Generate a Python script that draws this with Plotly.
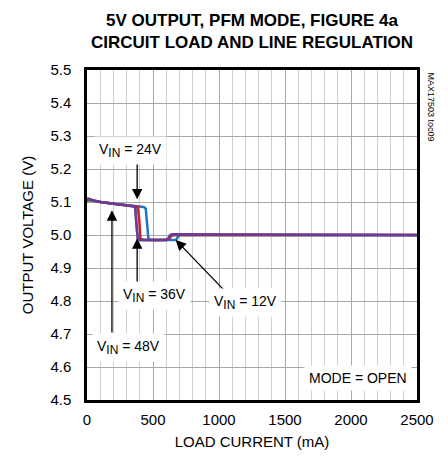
import plotly.graph_objects as go

# ---- data ----
x_12v = [0, 10, 50, 100, 200, 300, 400, 430, 445, 455, 465, 480, 550, 640, 660, 675, 690, 700, 1000, 1500, 2000, 2500]
y_12v = [5.10, 5.11, 5.105, 5.10, 5.095, 5.09, 5.087, 5.085, 5.08, 5.02, 4.99, 4.985, 4.985, 4.985, 4.983, 4.985, 4.995, 5.0, 5.0, 5.0, 5.0, 4.999]

x_48v = [0, 10, 50, 100, 200, 300, 350, 365, 375, 385, 400, 600, 620, 635, 650, 1000, 1500, 2000, 2500]
y_48v = [5.10, 5.105, 5.103, 5.10, 5.095, 5.09, 5.088, 5.085, 5.03, 4.99, 4.985, 4.985, 4.99, 4.998, 5.0, 5.0, 5.0, 5.0, 5.0]

x_24v = [0, 10, 50, 100, 200, 300, 360, 385, 395, 405, 420, 600, 625, 640, 655, 1000, 1500, 2000, 2500]
y_24v = [5.105, 5.11, 5.105, 5.10, 5.095, 5.09, 5.088, 5.085, 5.05, 4.99, 4.985, 4.985, 4.99, 4.998, 5.0, 5.0, 5.0, 5.0, 5.0]

x_36v = [0, 10, 50, 100, 200, 300, 350, 365, 375, 385, 400, 600, 615, 630, 645, 1000, 1500, 2000, 2500]
y_36v = [5.105, 5.108, 5.104, 5.10, 5.095, 5.09, 5.088, 5.086, 5.03, 4.988, 4.985, 4.985, 4.99, 5.0, 5.002, 5.002, 5.001, 5.0, 5.0]

x_ticks = [0, 500, 1000, 1500, 2000, 2500]
y_ticks = [4.5, 4.6, 4.7, 4.8, 4.9, 5.0, 5.1, 5.2, 5.3, 5.4, 5.5]

FONT = "Liberation Sans, Arial, sans-serif"

fig = go.Figure()
series = [
    (x_12v, y_12v, "#1f74c4", "12V"),
    (x_48v, y_48v, "#3a9a4a", "48V"),
    (x_24v, y_24v, "#c8202a", "24V"),
    (x_36v, y_36v, "#6a3a9c", "36V"),
]
for xs, ys, col, nm in series:
    fig.add_trace(go.Scatter(x=xs, y=ys, mode="lines", name=nm,
                             line=dict(color=col, width=2.5), showlegend=False))

ann_font = dict(family=FONT, size=14, color="black")

def vin(v):
    return "V<sub><span style='font-size:12px'>IN</span></sub> = " + v

def label(text, x, y, xanchor="center"):
    fig.add_annotation(x=x, y=y, xref="x", yref="y", text=text, showarrow=False,
                       font=ann_font, bgcolor="white", xanchor=xanchor, borderpad=4)

def arrow(x0, y0, x1, y1):
    fig.add_annotation(x=x1, y=y1, ax=x0, ay=y0, xref="x", yref="y", axref="x", ayref="y",
                       text="", showarrow=True, arrowhead=2, arrowsize=1.6,
                       arrowwidth=1.3, arrowcolor="black")

# arrows
arrow(380, 5.225, 380, 5.108)      # 24V
arrow(380, 4.845, 380, 4.99)       # 36V
arrow(189, 4.70, 189, 5.075)       # 48V
arrow(1060, 4.824, 672, 4.985)     # 12V

label(vin("24V"), 333, 5.255)
label(vin("36V"), 515, 4.818)
label(vin("12V"), 1197, 4.794)
label(vin("48V"), 318, 4.658)
label("MODE = OPEN", 2460, 4.567, xanchor="right")

# title
fig.add_annotation(x=0.5, y=1, xref="paper", yref="paper", yanchor="bottom", yshift=16,
                   text="<b>5V OUTPUT, PFM MODE, FIGURE 4a<br>CIRCUIT LOAD AND LINE REGULATION</b>",
                   showarrow=False, font=dict(family=FONT, size=17, color="black"))
# side note
fig.add_annotation(x=1, y=1, xref="paper", yref="paper", xanchor="left", yanchor="top",
                   xshift=7, text="MAX17503 toc09", textangle=90, showarrow=False,
                   font=dict(family=FONT, size=9, color="black"))

fig.update_xaxes(range=[0, 2500], tickvals=x_ticks, ticktext=[str(v) for v in x_ticks],
                 showgrid=True, gridcolor="#a8a8a8", gridwidth=1.2,
                 minor=dict(dtick=100, showgrid=True, gridcolor="#d0d0d0", gridwidth=1),
                 showline=True, linecolor="black", linewidth=2.5, mirror=True,
                 ticks="", zeroline=False, automargin=False, ticklabelstandoff=4,
                 title=dict(text="LOAD CURRENT (mA)", font=dict(family=FONT, size=15), standoff=10),
                 tickfont=dict(family=FONT, size=15, color="black"))
fig.update_yaxes(range=[4.5, 5.5], tickvals=y_ticks, ticktext=[f"{v:.1f}" for v in y_ticks],
                 showgrid=True, gridcolor="#a8a8a8", gridwidth=1.2,
                 showline=True, linecolor="black", linewidth=2.5, mirror=True,
                 ticks="", zeroline=False, automargin=False, ticklabelstandoff=10,
                 title=dict(text="OUTPUT VOLTAGE (V)", font=dict(family=FONT, size=15), standoff=14),
                 tickfont=dict(family=FONT, size=15, color="black"))

# page body has an 8px default margin; figure is sized/offset to compensate
fig.update_layout(width=440, height=450, margin=dict(l=79, r=31, t=62, b=58),
                  plot_bgcolor="white", paper_bgcolor="white",
                  font=dict(family=FONT, color="black"))

fig.write_html("out.html")
